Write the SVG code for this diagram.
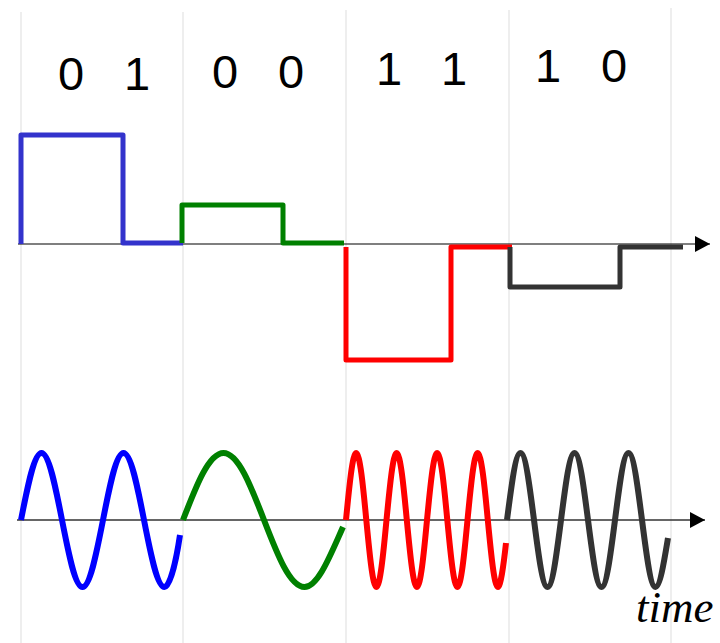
<svg xmlns="http://www.w3.org/2000/svg" width="720" height="643" viewBox="0 0 720 643">
<style>
.grid{stroke:#dddddd;stroke-width:1;fill:none}
.axis{stroke:#000;stroke-width:1.2;fill:none}
.axis2{stroke:#333;stroke-width:1.4;fill:none}
.sq{fill:none;stroke-width:5;stroke-linejoin:round;stroke-linecap:butt}
.wave{fill:none;stroke-width:6;stroke-linejoin:round;stroke-linecap:butt}
.bit{font-family:"Liberation Sans",Arial,sans-serif;font-size:47px;fill:#000;text-anchor:middle}
.time{font-family:"Liberation Serif","Times New Roman",serif;font-style:italic;font-size:45px;fill:#000}
</style>
<defs>
<marker id="arr" viewBox="0 0 15 16" refX="15" refY="8" markerWidth="15" markerHeight="16" markerUnits="userSpaceOnUse" orient="auto">
<path d="M0,0 L15,8 L0,16 Z" fill="#000"/>
</marker>
</defs>
<g id="gridlines">
<line class="grid" x1="21" y1="12" x2="21" y2="643"/>
<line class="grid" x1="183" y1="12" x2="183" y2="643"/>
<line class="grid" x1="346" y1="10" x2="346" y2="643"/>
<line class="grid" x1="509" y1="10" x2="509" y2="643"/>
<line class="grid" x1="671" y1="8" x2="671" y2="643"/>
</g>
<g id="labels">
<text class="bit" x="71" y="90">0</text>
<text class="bit" x="137" y="90">1</text>
<text class="bit" x="225" y="88">0</text>
<text class="bit" x="291" y="88">0</text>
<text class="bit" x="389" y="85">1</text>
<text class="bit" x="454" y="85">1</text>
<text class="bit" x="548" y="82">1</text>
<text class="bit" x="614" y="82">0</text>
</g>
<g id="connectors">
<line class="axis" x1="18" y1="244" x2="710" y2="244" marker-end="url(#arr)"/>
<line class="axis2" x1="17" y1="520" x2="705" y2="520" marker-end="url(#arr)"/>
</g>
<g id="square-wave">
<path class="sq" stroke="#3333cc" d="M21,244 V135 H123 V243 H183"/>
<path class="sq" stroke="#008000" d="M182,243 V205 H283 V243 H344"/>
<path class="sq" stroke="#ff0000" d="M346,247 V360 H451 V247 H512"/>
<path class="sq" stroke="#333333" d="M510,247 V287 H620 V247 H683"/>
</g>
<g id="carrier-wave">
<path class="wave" stroke="#0000ff" d="M21,520 C27.7,485.7 34.1,453 41.5,453 C48.9,453 55.3,485.7 62,520 C68.7,554.3 75.1,587 82.5,587 C89.9,587 96.3,554.3 103,520 C109.7,485.7 116.1,453 123.5,453 C130.9,453 137.3,485.7 144,520 C150.7,554.3 157.1,587 164.5,587 C170,587 176,562 180,535"/>
<path class="wave" stroke="#008000" d="M183,520 C196.2,485.7 208.9,453 223.5,453 C238.1,453 250.8,485.7 264,520 C277.2,554.3 289.9,587 304.5,587 C318,587 330,556 343,527"/>
<path class="wave" stroke="#ff0000" d="M346,520 C349.3,485.7 352.6,453 356.1,453 C359.8,453 363.1,485.7 366.3,520 C369.6,554.3 372.8,587 376.4,587 C380,587 383.3,554.3 386.5,520 C389.8,485.7 393.1,453 396.6,453 C400.3,453 403.6,485.7 406.8,520 C410.1,554.3 413.3,587 416.9,587 C420.5,587 423.8,554.3 427,520 C430.3,485.7 433.6,453 437.1,453 C440.8,453 444.1,485.7 447.3,520 C450.6,554.3 453.8,587 457.4,587 C461,587 464.3,554.3 467.5,520 C470.8,485.7 474.1,453 477.6,453 C481.3,453 484.6,485.7 487.8,520 C491.1,554.3 494.3,587 497.9,587 C500.5,587 503.5,566 506,543"/>
<path class="wave" stroke="#333333" d="M507,520 C511.4,485.7 515.6,453 520.5,453 C525.4,453 529.6,485.7 534,520 C538.4,554.3 542.6,587 547.5,587 C552.4,587 556.6,554.3 561,520 C565.4,485.7 569.6,453 574.5,453 C579.4,453 583.6,485.7 588,520 C592.4,554.3 596.6,587 601.5,587 C606.4,587 610.6,554.3 615,520 C619.4,485.7 623.6,453 628.5,453 C633.4,453 637.6,485.7 642,520 C646.4,554.3 650.6,587 655.5,587 C660,587 664,562 668,538"/>
</g>
<text class="time" x="636" y="622">time</text>
</svg>
